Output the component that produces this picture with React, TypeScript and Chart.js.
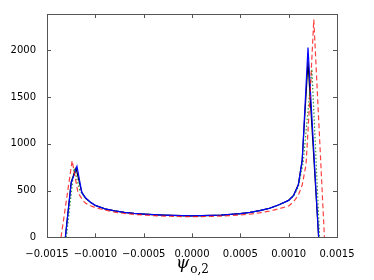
import React, { useEffect, useRef } from "react";
import { Chart, registerables } from "chart.js";

Chart.register(...registerables);

const xTicks = [-0.0015, -0.001, -0.0005, 0, 0.0005, 0.001, 0.0015];
const xTickLabels = ["\u22120.0015", "\u22120.0010", "\u22120.0005", "0.0000", "0.0005", "0.0010", "0.0015"];
const yTicks = [0, 500, 1000, 1500, 2000];
const yTickLabels = ["0", "500", "1000", "1500", "2000"];

const blueX = [-0.00131, -0.00125, -0.00119, -0.00114, -0.0011, -0.00105, -0.001, -0.0009, -0.0008, -0.0007, -0.0006, -0.0005, -0.0004, -0.0003, -0.0002, -0.0001, 0, 0.0001, 0.0002, 0.0003, 0.0004, 0.0005, 0.0006, 0.0007, 0.0008, 0.0009, 0.001, 0.00105, 0.0011, 0.00114, 0.0012, 0.00131];
const blueY = [0, 580, 760, 480, 420, 375, 342, 305, 283, 267, 256, 249, 243, 238, 234, 231, 230, 231, 234, 238, 245, 254, 267, 285, 310, 348, 395, 445, 560, 820, 2030, 0];

const blackX = [-0.00131, -0.00125, -0.0012, -0.00114, -0.0011, -0.00105, -0.001, -0.0009, -0.0008, -0.0007, -0.0006, -0.0005, -0.0004, -0.0003, -0.0002, -0.0001, 0, 0.0001, 0.0002, 0.0003, 0.0004, 0.0005, 0.0006, 0.0007, 0.0008, 0.0009, 0.001, 0.00105, 0.0011, 0.00114, 0.0012, 0.00131];
const blackY = [0, 590, 740, 480, 418, 374, 341, 304, 283, 267, 256, 249, 243, 238, 234, 231, 230, 231, 234, 238, 245, 254, 267, 285, 311, 349, 397, 448, 565, 830, 1880, 0];

const greenX = [-0.0013, -0.00122, -0.00116, -0.0011, -0.00105, -0.001, -0.0009, -0.0008, -0.0007, -0.0006, -0.0005, -0.0004, -0.0003, -0.0002, -0.0001, 0, 0.0001, 0.0002, 0.0003, 0.0004, 0.0005, 0.0006, 0.0007, 0.0008, 0.0009, 0.001, 0.00105, 0.0011, 0.00115, 0.00124, 0.00132];
const greenY = [0, 740, 500, 415, 372, 340, 303, 282, 266, 255, 248, 242, 237, 233, 230, 229, 230, 233, 237, 244, 253, 266, 284, 309, 346, 392, 440, 540, 800, 1800, 0];

const redX = [-0.001355, -0.00124, -0.00118, -0.00113, -0.0011, -0.00105, -0.001, -0.0009, -0.0008, -0.0007, -0.0006, -0.0005, -0.0004, -0.0003, -0.0002, -0.0001, 0, 0.0001, 0.0002, 0.0003, 0.0004, 0.0005, 0.0006, 0.0007, 0.0008, 0.0009, 0.001, 0.00105, 0.0011, 0.00114, 0.00118, 0.00122, 0.00126, 0.00137];
const redY = [0, 820, 480, 395, 365, 338, 318, 290, 270, 255, 245, 238, 232, 227, 224, 222, 221, 222, 224, 227, 232, 239, 249, 262, 280, 305, 335, 380, 450, 560, 780, 1500, 2330, 0];

const toPts = (xs: number[], ys: number[]) => xs.map((x, i) => ({ x, y: ys[i] }));

const framePlugin = {
  id: "frame",
  afterDraw(chart: any) {
    const { ctx, chartArea: a, scales } = chart;
    ctx.save();
    ctx.strokeStyle = "#555";
    ctx.lineWidth = 1;
    ctx.strokeRect(Math.round(a.left) + 0.5, Math.round(a.top) + 0.5, Math.round(a.right - a.left), Math.round(a.bottom - a.top));
    const L = 4;
    ctx.beginPath();
    xTicks.forEach((v) => {
      const px = Math.round(scales.x.getPixelForValue(v)) + 0.5;
      ctx.moveTo(px, a.bottom);
      ctx.lineTo(px, a.bottom - L);
      ctx.moveTo(px, a.top);
      ctx.lineTo(px, a.top + L);
    });
    yTicks.forEach((v) => {
      const py = Math.round(scales.y.getPixelForValue(v)) + 0.5;
      ctx.moveTo(a.left, py);
      ctx.lineTo(a.left + L, py);
      ctx.moveTo(a.right, py);
      ctx.lineTo(a.right - L, py);
    });
    ctx.stroke();
    // x-axis title: italic psi with subscript "o,2"
    const cx = (a.left + a.right) / 2;
    ctx.fillStyle = "#000";
    ctx.textBaseline = "alphabetic";
    ctx.textAlign = "left";
    ctx.font = "italic 17px 'DejaVu Serif'";
    const psiW = ctx.measureText("\u03c8").width;
    ctx.font = "12px 'DejaVu Serif'";
    const subW = ctx.measureText("o,2").width;
    const start = cx - (psiW + subW) / 2;
    ctx.font = "italic 17px 'DejaVu Serif'";
    ctx.fillText("\u03c8", start, 268);
    ctx.font = "12px 'DejaVu Serif'";
    ctx.fillText("o,2", start + psiW + 1, 273);
    ctx.restore();
  },
};

export default function App() {
  const ref = useRef<HTMLCanvasElement>(null);
  useEffect(() => {
    document.body.style.margin = "0";
    const chart = new Chart(ref.current as HTMLCanvasElement, {
      type: "line",
      data: {
        datasets: [
          { data: toPts(redX, redY), borderColor: "rgba(255,0,0,0.75)", borderWidth: 1.2, borderDash: [5, 3], pointRadius: 0, fill: false, tension: 0 },
          { data: toPts(blueX, blueY), borderColor: "#0000ff", borderWidth: 1.2, pointRadius: 0, fill: false, tension: 0 },
          { data: toPts(greenX, greenY), borderColor: "rgba(0,128,0,0.8)", borderWidth: 1.2, borderDash: [1.5, 2], pointRadius: 0, fill: false, tension: 0 },
          { data: toPts(blackX, blackY), borderColor: "#000", borderWidth: 1.2, pointRadius: 0, fill: false, tension: 0 },
        ],
      },
      options: {
        animation: false,
        responsive: true,
        maintainAspectRatio: false,
        layout: { padding: { left: 0, right: 37, top: 14, bottom: 0 } },
        plugins: { legend: { display: false }, tooltip: { enabled: false } },
        scales: {
          x: {
            type: "linear",
            min: -0.0015,
            max: 0.0015,
            grid: { display: false },
            border: { display: false },
            afterBuildTicks: (s: any) => { s.ticks = xTicks.map((v) => ({ value: v })); },
            afterFit: (s: any) => { s.height = 42.7; },
            ticks: {
              color: "#000",
              font: { family: "'DejaVu Sans'", size: 10 },
              padding: 3,
              maxRotation: 0,
              autoSkip: false,
              callback: (v: any) => { const i = xTicks.findIndex((t) => Math.abs(t - v) < 1e-9); return i >= 0 ? xTickLabels[i] : ""; },
            },
          },
          y: {
            min: 0,
            max: 2390,
            grid: { display: false },
            border: { display: false },
            afterBuildTicks: (s: any) => { s.ticks = yTicks.map((v) => ({ value: v })); },
            afterFit: (s: any) => { s.width = 47; },
            ticks: {
              color: "#000",
              font: { family: "'DejaVu Sans'", size: 10 },
              padding: 3,
              autoSkip: false,
              callback: (v: any) => { const i = yTicks.indexOf(v); return i >= 0 ? yTickLabels[i] : ""; },
            },
          },
        },
      },
      plugins: [framePlugin],
    });
    return () => chart.destroy();
  }, []);
  return (
    <div style={{ width: 374, height: 280, position: "relative" }}>
      <canvas ref={ref} />
    </div>
  );
}
